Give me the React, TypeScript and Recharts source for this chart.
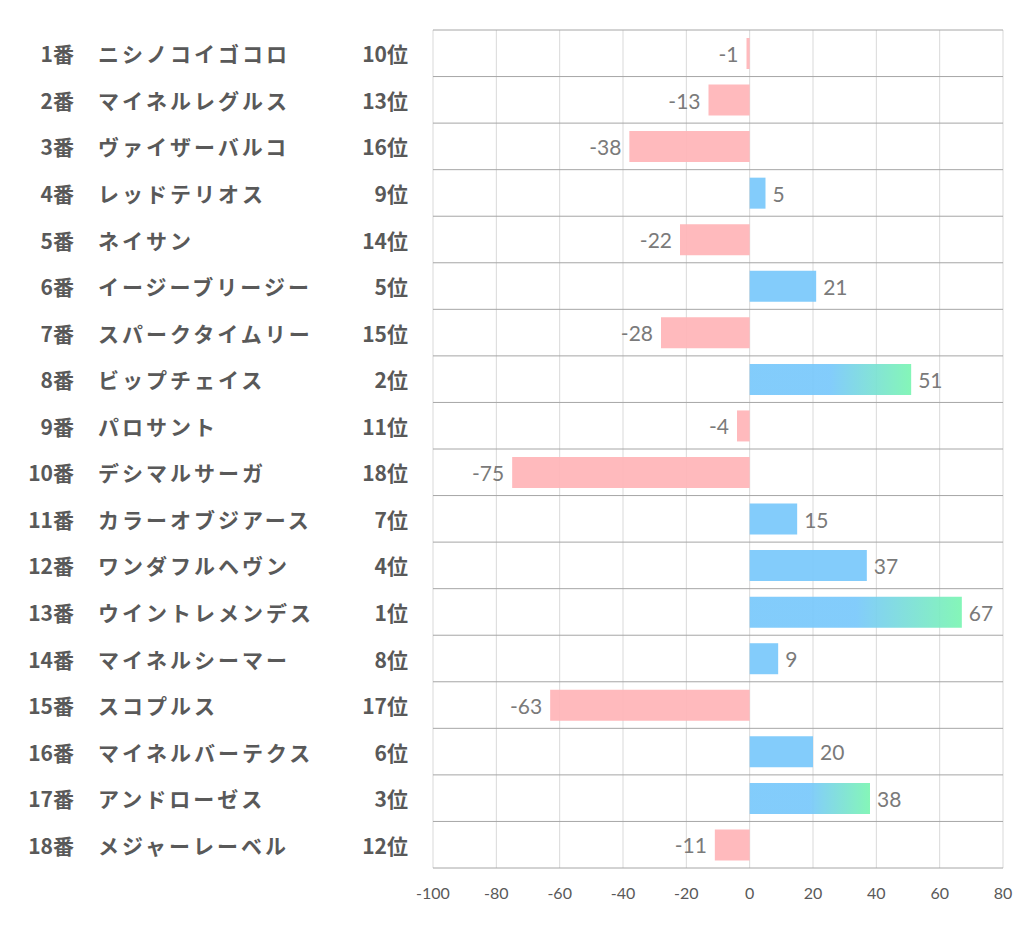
import {
  BarChart,
  Bar,
  XAxis,
  YAxis,
  CartesianGrid,
  Cell,
  LabelList,
} from "recharts";

const horseNumbers = [
  "1番", "2番", "3番", "4番", "5番", "6番", "7番", "8番", "9番",
  "10番", "11番", "12番", "13番", "14番", "15番", "16番", "17番", "18番",
];

const horseNames = [
  "ニシノコイゴコロ",
  "マイネルレグルス",
  "ヴァイザーバルコ",
  "レッドテリオス",
  "ネイサン",
  "イージーブリージー",
  "スパークタイムリー",
  "ビップチェイス",
  "パロサント",
  "デシマルサーガ",
  "カラーオブジアース",
  "ワンダフルヘヴン",
  "ウイントレメンデス",
  "マイネルシーマー",
  "スコプルス",
  "マイネルバーテクス",
  "アンドローゼス",
  "メジャーレーベル",
];

const ranks = [
  "10位", "13位", "16位", "9位", "14位", "5位", "15位", "2位", "11位",
  "18位", "7位", "4位", "1位", "8位", "17位", "6位", "3位", "12位",
];

const scores = [-1, -13, -38, 5, -22, 21, -28, 51, -4, -75, 15, 37, 67, 9, -63, 20, 38, -11];

const xTicks = [-100, -80, -60, -40, -20, 0, 20, 40, 60, 80];

const data = horseNames.map((name, i) => ({
  name,
  num: horseNumbers[i],
  rank: ranks[i],
  score: scores[i],
}));

const BLUE = "#78c8fb";
const PINK = "#ffb4b7";
const LABEL_FONT = "'Noto Sans CJK JP', 'Noto Sans', sans-serif";
const NUM_FONT = "Lato, 'Noto Sans', sans-serif";

const barColor = (d: { score: number; rank: string }) => {
  if (d.score < 0) return PINK;
  if (d.rank === "1位" || d.rank === "2位" || d.rank === "3位") return "url(#topGrad)";
  return BLUE;
};

const LeftTick = (props: any) => {
  const { y, payload } = props;
  const d = data[payload.index];
  return (
    <g fontFamily={LABEL_FONT} fontWeight="bold" fill="#595959" fontSize={21}>
      <text x={74} y={y} textAnchor="end" dominantBaseline="central">
        {d.num}
      </text>
      <text x={98} y={y} textAnchor="start" dominantBaseline="central" letterSpacing={3}>
        {d.name}
      </text>
      <text x={408} y={y} textAnchor="end" dominantBaseline="central">
        {d.rank}
      </text>
    </g>
  );
};

const ValueLabel = (props: any) => {
  const { x, y, width, height, value } = props;
  const left = Math.min(x, x + width);
  const right = Math.max(x, x + width);
  const cy = y + height / 2;
  if (value < 0) {
    return (
      <text x={left - 8} y={cy} textAnchor="end" dominantBaseline="central"
        fontFamily={NUM_FONT} fontSize={21} fill="#7a7a7a">
        {value}
      </text>
    );
  }
  return (
    <text x={right + 7} y={cy} textAnchor="start" dominantBaseline="central"
      fontFamily={NUM_FONT} fontSize={21} fill="#7a7a7a">
      {value}
    </text>
  );
};

const rowLines = ({ offset }: any) => {
  const lines: number[] = [];
  for (let i = 0; i <= data.length; i++) {
    lines.push(offset.top + (i * offset.height) / data.length);
  }
  return lines;
};

export default function App() {
  return (
    <div style={{ position: "absolute", left: 0, top: 0, width: 1022, height: 939, background: "#fff" }}>
      <BarChart
        width={1022}
        height={939}
        data={data}
        layout="vertical"
        margin={{ top: 30, right: 19, left: 0, bottom: 0 }}
        barSize={31}
      >
        <defs>
          <linearGradient id="topGrad" x1="0" y1="0" x2="1" y2="0">
            <stop offset="0.5" stopColor={BLUE} />
            <stop offset="1" stopColor="#7af5b2" />
          </linearGradient>
        </defs>
        <CartesianGrid horizontal={false} stroke="#d9d9d9" strokeWidth={1} />
        <CartesianGrid vertical={false} stroke="#a6a6a6" strokeWidth={1}
          horizontalCoordinatesGenerator={rowLines} />
        <XAxis
          type="number"
          domain={[-100, 80]}
          ticks={xTicks}
          axisLine={false}
          tickLine={false}
          height={71}
          tickMargin={14}
          tick={{ fontFamily: NUM_FONT, fontSize: 16, fill: "#595959" }}
          allowDataOverflow
        />
        <YAxis
          type="category"
          dataKey="name"
          width={433}
          axisLine={false}
          tickLine={false}
          tick={<LeftTick />}
          interval={0}
        />
        <Bar dataKey="score" isAnimationActive={false} fillOpacity={0.92}>
          {data.map((d, i) => (
            <Cell key={i} fill={barColor(d)} />
          ))}
          <LabelList dataKey="score" content={<ValueLabel />} />
        </Bar>
      </BarChart>
    </div>
  );
}
